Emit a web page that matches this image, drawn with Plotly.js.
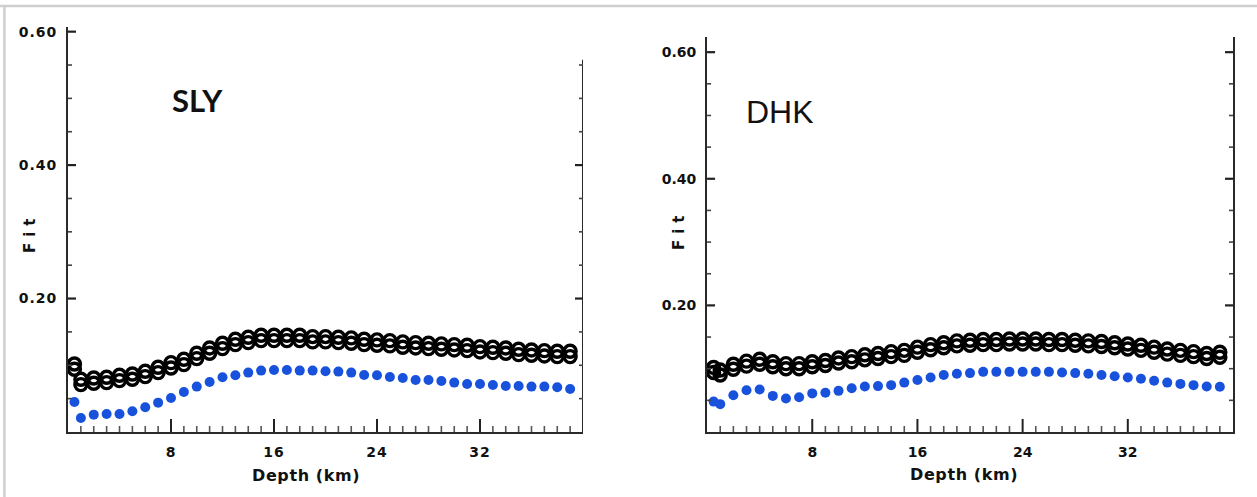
<!DOCTYPE html>
<html>
<head>
<meta charset="utf-8">
<script src="https://cdn.plot.ly/plotly-3.0.1.min.js"></script>
<style>
  html, body { margin: 0; padding: 0; background: #fff; }
  #chart { width: 1257px; height: 497px; }
  .xtick text, .ytick text { letter-spacing: 1px; }
</style>
</head>
<body>
<div id="chart"></div>
<script>
// ---- data ----
const depth = [0.5,1,2,3,4,5,6,7,8,9,10,11,12,13,14,15,16,17,18,19,20,21,22,23,24,25,26,27,28,29,30,31,32,33,34,35,36,37,38,39];

// SLY panel
const slyBlue  = [0.045,0.021,0.026,0.027,0.027,0.031,0.037,0.044,0.051,0.060,0.068,0.075,0.082,0.085,0.089,0.092,0.093,0.093,0.092,0.092,0.091,0.0905,0.089,0.0855,0.085,0.0825,0.081,0.078,0.078,0.0765,0.074,0.072,0.072,0.0705,0.069,0.069,0.068,0.068,0.067,0.0645];
const slyUpper = [0.102,0.079,0.081,0.082,0.085,0.087,0.091,0.097,0.104,0.109,0.118,0.126,0.133,0.139,0.142,0.145,0.145,0.145,0.145,0.143,0.143,0.142,0.141,0.139,0.138,0.137,0.135,0.134,0.133,0.132,0.131,0.130,0.128,0.127,0.126,0.124,0.123,0.122,0.121,0.121];
const slyLower = [0.094,0.071,0.073,0.074,0.077,0.079,0.083,0.089,0.096,0.101,0.110,0.118,0.125,0.131,0.134,0.137,0.137,0.137,0.137,0.135,0.135,0.134,0.133,0.131,0.130,0.129,0.127,0.126,0.125,0.124,0.123,0.122,0.120,0.119,0.118,0.116,0.115,0.114,0.113,0.113];

// DHK panel
const dhkBlue  = [0.048,0.044,0.058,0.066,0.067,0.057,0.053,0.055,0.061,0.062,0.065,0.069,0.072,0.0725,0.074,0.078,0.082,0.086,0.090,0.092,0.093,0.095,0.095,0.095,0.095,0.095,0.095,0.094,0.093,0.092,0.090,0.088,0.086,0.084,0.081,0.078,0.076,0.074,0.072,0.0716];
const dhkUpper = [0.102,0.098,0.107,0.112,0.115,0.111,0.108,0.108,0.111,0.113,0.117,0.119,0.122,0.124,0.127,0.129,0.134,0.138,0.141,0.144,0.145,0.146,0.146,0.147,0.147,0.147,0.146,0.146,0.145,0.144,0.143,0.141,0.139,0.137,0.134,0.131,0.129,0.127,0.124,0.126];
const dhkLower = [0.094,0.090,0.099,0.104,0.107,0.103,0.100,0.100,0.103,0.105,0.109,0.111,0.114,0.116,0.119,0.121,0.126,0.130,0.133,0.136,0.137,0.138,0.138,0.139,0.139,0.139,0.138,0.138,0.137,0.136,0.135,0.133,0.131,0.129,0.126,0.123,0.121,0.119,0.116,0.118];

const xTickStep = 8;          // labelled ticks 8, 16, 24, 32
const xMinorStep = 1;
const yTickStep = 0.2;        // labelled ticks 0.20, 0.40, 0.60
const yMinorStep = 0.05;
const hiddenXLabels = {'0':'', '40':''};
const hiddenYLabels = {'0.00':''};
const panelLabels = ['SLY','DHK'];
const xTitle = 'Depth (km)';
const yTitle = 'Fit';

// ---- styling ----
const W = 1257, H = 497;
const blue = '#1852dc';
const tickFont = {family:'DejaVu Sans', size:14, color:'#111', weight:'bold'};
const lineCol = '#2a2a2a';

const domXL = [0.0541,0.4638], domXR = [0.5625,0.9809];
const domYL = [0.1308,0.9457], domYR = [0.1308,0.9256];
const rangeX = [0,40], rangeYL = [0,0.607], rangeYR = [0,0.624];
const leftBorderTop = 0.558;  // the right frame of the SLY panel stops lower

function blueTrace(y, xa, ya){
  return {x:depth, y:y, xaxis:xa, yaxis:ya, type:'scatter', mode:'markers',
    marker:{symbol:'circle', size:10, color:blue, line:{width:0}}, hoverinfo:'skip', showlegend:false};
}
function ringTrace(y, xa, ya){
  return {x:depth, y:y, xaxis:xa, yaxis:ya, type:'scatter', mode:'markers',
    marker:{symbol:'circle-open', size:12, color:'#000', line:{width:3.4, color:'#000'}}, hoverinfo:'skip', showlegend:false};
}

// x-axis tick marks: short vertical segments rising from the axis, built from the tick steps
function xTickTrace(xa, ya, yDom, yRange, major){
  const pxPerUnit = (yDom[1] - yDom[0]) * H / (yRange[1] - yRange[0]);
  const len = (major ? 13 : 6) / pxPerUnit;
  const xs = [], ys = [];
  for (let i = 1; i * xMinorStep < rangeX[1]; i++) {
    const v = i * xMinorStep;
    const isMajor = Math.abs(v / xTickStep - Math.round(v / xTickStep)) < 1e-9;
    if (isMajor !== major) continue;
    xs.push(v, v, null);
    ys.push(yRange[0], yRange[0] + len, null);
  }
  return {x:xs, y:ys, xaxis:xa, yaxis:ya, type:'scatter', mode:'lines', connectgaps:false,
    line:{color: major ? '#222' : '#555', width: major ? 2 : 1.6}, hoverinfo:'skip', showlegend:false, cliponaxis:false};
}

const data = [
  xTickTrace('x','y',domYL,rangeYL,false), xTickTrace('x','y',domYL,rangeYL,true),
  xTickTrace('x2','y2',domYR,rangeYR,false), xTickTrace('x2','y2',domYR,rangeYR,true),
  blueTrace(slyBlue,'x','y'), ringTrace(slyLower,'x','y'), ringTrace(slyUpper,'x','y'),
  blueTrace(dhkBlue,'x2','y2'), ringTrace(dhkLower,'x2','y2'), ringTrace(dhkUpper,'x2','y2')
];

function xAxis(domain, anchor){
  return {domain:domain, anchor:anchor, range:rangeX, tickmode:'linear', tick0:0, dtick:xTickStep,
    labelalias:hiddenXLabels, ticks:'',
    showline:true, linecolor:lineCol, linewidth:2, showgrid:false, zeroline:false,
    tickfont:tickFont, ticklabelstandoff:6, fixedrange:true};
}
function yAxis(domain, anchor, range, mirror){
  return {domain:domain, anchor:anchor, range:range, tickmode:'linear', tick0:0, dtick:yTickStep,
    tickformat:'.2f', labelalias:hiddenYLabels, ticks:'',
    showline:true, linecolor:lineCol, linewidth:2, mirror:mirror, showgrid:false, zeroline:false,
    tickfont:tickFont, ticklabelstandoff:6, fixedrange:true};
}

// ---- y tick marks (pixel-length shapes anchored on the vertical axes) ----
const shapes = [
  {type:'line', xref:'paper', yref:'paper', x0:0, x1:1, y0:0.988, y1:0.988, line:{color:'#cfcfcf', width:2.5}},
  {type:'line', xref:'paper', yref:'paper', x0:0.0035, x1:0.0035, y0:0, y1:0.988, line:{color:'#cfcfcf', width:2.5}},
  // right frame of the SLY panel
  {type:'line', xref:'x', yref:'y', x0:rangeX[1], x1:rangeX[1], y0:0, y1:leftBorderTop, line:{color:lineCol, width:2}}
];
function yTick(xa, ya, at, v, len, w, col){
  shapes.push({type:'line', xref:xa, yref:ya, y0:v, y1:v, xsizemode:'pixel', xanchor:at, x0:0, x1:len,
    line:{color:col, width:w}});
}
function yTickSet(xa, ya, yMax, rightMax){
  for (let i = 1; i * yMinorStep <= yMax + 1e-9; i++) {
    const v = Math.round(i * yMinorStep * 1000) / 1000;
    const major = Math.abs(v / yTickStep - Math.round(v / yTickStep)) < 1e-9;
    yTick(xa, ya, rangeX[0], v, major ? 8 : 4, major ? 2.2 : 1.6, major ? '#222' : '#444');
    if (v <= rightMax + 1e-9) {
      yTick(xa, ya, rangeX[1], v, major ? -8 : -4, major ? 2.2 : 1.6, major ? '#222' : '#444');
    }
  }
}
yTickSet('x', 'y', rangeYL[1], leftBorderTop);
yTickSet('x2', 'y2', rangeYR[1], rangeYR[1]);

function ann(text, x, y, font, extra){
  return Object.assign({text:text, xref:'paper', yref:'paper', x:x, y:y, xanchor:'center', yanchor:'middle',
    showarrow:false, font:font}, extra || {});
}
const titleFont = {family:'DejaVu Sans', size:16, color:'#111', weight:'bold'};
const fitFont = {family:'DejaVu Sans', size:15, color:'#111', weight:'bold'};

const layout = {
  width:W, height:H,
  margin:{l:0,r:0,t:0,b:0},
  paper_bgcolor:'#fff', plot_bgcolor:'rgba(0,0,0,0)',
  showlegend:false,
  xaxis: xAxis(domXL,'y'),
  yaxis: yAxis(domYL,'x',rangeYL,false),
  xaxis2: xAxis(domXR,'y2'),
  yaxis2: yAxis(domYR,'x2',rangeYR,true),
  shapes: shapes,
  annotations:[
    ann(panelLabels[0], 0.1575, 0.7988, {family:'Lato', size:31, color:'#111', weight:'bold'}),
    ann(panelLabels[1], 0.6205, 0.7746, {family:'Liberation Sans', size:32, color:'#111'}),
    ann(xTitle, 0.2434, 0.0423, titleFont),
    ann(xTitle, 0.7669, 0.0443, titleFont),
    ann(yTitle, 0.0239, 0.5312, fitFont, {textangle:-90}),
    ann(yTitle, 0.5402, 0.5372, fitFont, {textangle:-90})
  ]
};

Plotly.newPlot('chart', data, layout, {displayModeBar:false}).then(function(){
  document.querySelectorAll('.annotation-text').forEach(function(t){
    if (t.textContent === yTitle) { t.style.letterSpacing = '6px'; }
    if (t.textContent === xTitle) { t.style.letterSpacing = '0.6px'; }
  });
});
</script>
</body>
</html>
